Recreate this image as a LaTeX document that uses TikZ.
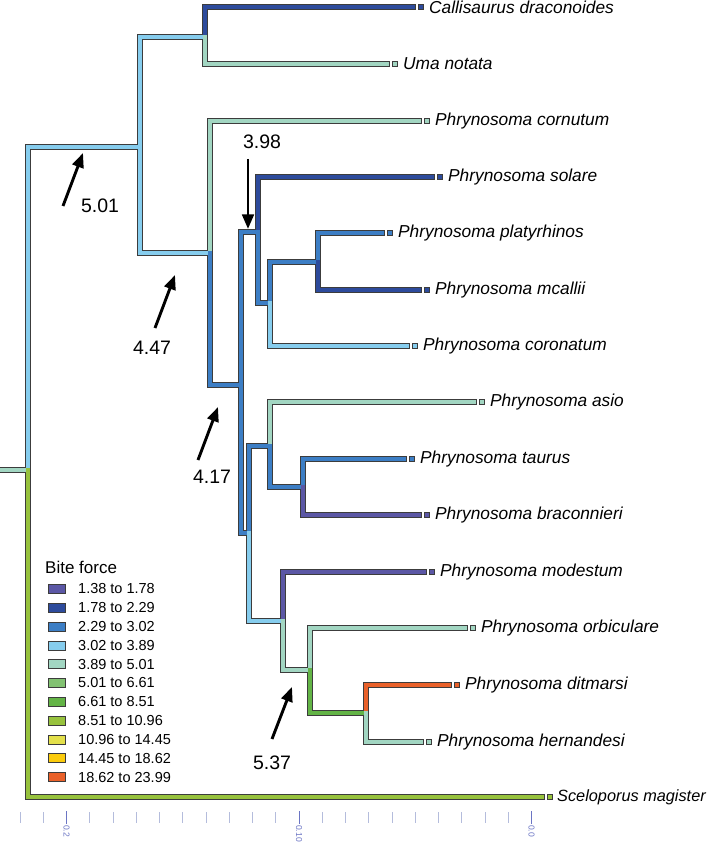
\documentclass[tikz,border=0pt]{standalone}
\usepackage{fontspec}
\setmainfont{Liberation Sans}
\usetikzlibrary{arrows.meta}
\definecolor{c1}{HTML}{5B57A5}
\definecolor{c2}{HTML}{2D4B9C}
\definecolor{c3}{HTML}{3C7EC5}
\definecolor{c4}{HTML}{86CDEE}
\definecolor{c5}{HTML}{A2D6C2}
\definecolor{c6}{HTML}{82C272}
\definecolor{c7}{HTML}{63B446}
\definecolor{c8}{HTML}{97C23D}
\definecolor{c9}{HTML}{E3E04B}
\definecolor{c10}{HTML}{FBCB0C}
\definecolor{c11}{HTML}{E9612A}
\definecolor{edge}{HTML}{3C3C3C}
\definecolor{axisblue}{HTML}{6B75C4}
\definecolor{minorblue}{HTML}{B4BCDC}
\def\branches{c5/-5/470/28/470, c4/28/470/28/147, c8/28/470/28/797, c8/28/797/542/797,
c4/28/147/140/147, c4/140/147/140/37, c4/140/147/140/253,
c4/140/37/205/37, c2/205/37/205/7, c5/205/37/205/64, c2/205/7/413/7, c5/205/64/387/64,
c4/140/253/210/253, c5/210/253/210/121, c3/210/253/210/385, c5/210/121/419/121,
c3/210/385/241/385, c3/241/385/241/232, c3/241/385/241/533,
c3/241/232/258/232, c2/258/232/258/177, c3/258/232/258/303, c2/258/177/432/177,
c3/258/303/270/303, c3/270/303/270/262, c4/270/303/270/346, c4/270/346/407/346,
c3/270/262/318/262, c3/318/262/318/233, c2/318/262/318/290, c3/318/233/382/233, c2/318/290/419/290,
c3/241/533/249/533, c3/249/533/249/446, c4/249/533/249/621,
c3/249/446/270/446, c5/270/446/270/402, c3/270/446/270/487, c5/270/402/474/402,
c3/270/487/303/487, c3/303/487/303/459, c1/303/487/303/515, c3/303/459/404/459, c1/303/515/419/515,
c4/249/621/283/621, c1/283/621/283/572, c5/283/621/283/670, c1/283/572/424/572,
c5/283/670/310/670, c5/310/670/310/628, c7/310/670/310/713, c5/310/628/465/628,
c7/310/713/366/713, c11/366/713/366/685, c5/366/713/366/742, c11/366/685/449/685, c5/366/742/421/742}
\begin{document}
\begin{tikzpicture}[x=1pt,y=-1pt,
  outl/.style={line width=5.8pt, draw=edge, line cap=rect},
  inl/.style={line width=3.6pt, line cap=rect},
  tipbox/.style={draw=edge, line width=0.6pt},
  species/.style={anchor=west, inner sep=0pt, font=\fontsize{17.3}{20}\selectfont\itshape},
  num/.style={inner sep=0pt, font=\fontsize{19.5}{22}\selectfont},
  pointer/.style={line width=2.9pt, -{Triangle[length=14.5pt,width=11.5pt]}},
  legtext/.style={anchor=west, inner sep=0pt, font=\fontsize{14.5}{16}\selectfont},
  legtitle/.style={anchor=west, inner sep=0pt, font=\fontsize{17}{19}\selectfont},
  minortick/.style={draw=minorblue, line width=0.8pt},
  majortick/.style={draw=axisblue, line width=0.9pt},
  axislabel/.style={rotate=-90, anchor=west, inner sep=0pt, text=axisblue, font=\fontsize{8.6}{10}\selectfont}]
\useasboundingbox (0,0) rectangle (709,842);
% branch outlines then fills
\foreach \col/\xa/\ya/\xb/\yb in \branches {\draw[outl] (\xa,\ya) -- (\xb,\yb);}
\foreach \col/\xa/\ya/\xb/\yb in \branches {\draw[inl, draw=\col] (\xa,\ya) -- (\xb,\yb);}
% tips
\foreach \col/\xe/\yy/\name [count=\i] in {c2/416/7/Callisaurus draconoides, c5/390/64/Uma notata,
  c5/422/121/Phrynosoma cornutum, c2/435/177/Phrynosoma solare, c3/385/233/Phrynosoma platyrhinos,
  c2/422/290/Phrynosoma mcallii, c4/410/346/Phrynosoma coronatum, c5/477/402/Phrynosoma asio,
  c3/407/459/Phrynosoma taurus, c1/422/515/Phrynosoma braconnieri, c1/427/572/Phrynosoma modestum,
  c5/468/628/Phrynosoma orbiculare, c11/452/685/Phrynosoma ditmarsi, c5/424/742/Phrynosoma hernandesi} {
  \draw[tipbox, fill=\col] (\xe+2.5,\yy-2.3) rectangle (\xe+7,\yy+2.3);
  \node[species] (sp\i) at (\xe+13,\yy) {\name};
}
\draw[tipbox, fill=c8] (547.5,794.7) rectangle (552,799.3);
\node[species, font=\fontsize{16.3}{19}\selectfont\itshape] (sp15) at (557,797) {Sceloporus magister};
% arrows and values
\coordinate (a1s) at (63,206); \coordinate (a1e) at (83,153);
\draw[pointer] (a1s) -- (a1e);
\node[num] (v1) at (100,206) {5.01};
\coordinate (a2s) at (155,328); \coordinate (a2e) at (175,275);
\draw[pointer] (a2s) -- (a2e);
\node[num] (v2) at (152,348) {4.47};
\coordinate (a3s) at (198,460); \coordinate (a3e) at (218,407);
\draw[pointer] (a3s) -- (a3e);
\node[num] (v3) at (212,477) {4.17};
\coordinate (a4s) at (248,159); \coordinate (a4e) at (248,229);
\draw[pointer] (a4s) -- (a4e);
\node[num] (v4) at (262,142) {3.98};
\coordinate (a5s) at (272,739); \coordinate (a5e) at (292,687);
\draw[pointer] (a5s) -- (a5e);
\node[num] (v5) at (272,763) {5.37};
% legend
\node[legtitle] (legt) at (45,567) {Bite force};
\foreach \col/\txt [count=\i] in {c1/1.38 to 1.78, c2/1.78 to 2.29, c3/2.29 to 3.02, c4/3.02 to 3.89,
  c5/3.89 to 5.01, c6/5.01 to 6.61, c7/6.61 to 8.51, c8/8.51 to 10.96, c9/10.96 to 14.45,
  c10/14.45 to 18.62, c11/18.62 to 23.99} {
  \pgfmathsetmacro\ly{589+18.8*(\i-1)}
  \draw[tipbox, fill=\col] (48,\ly-4.5) rectangle (65,\ly+4.5);
  \node[legtext] (leg\i) at (78,\ly) {\txt};
}
% axis
\foreach \k in {0,...,22} {
  \pgfmathsetmacro\xx{531.5-23.25*\k}
  \draw[minortick] (\xx,812) -- (\xx,823);
}
\foreach \k/\lab in {0/0.0, 10/0.10, 20/0.2} {
  \pgfmathsetmacro\xx{531.5-23.25*\k}
  \draw[majortick] (\xx,811) -- (\xx,824);
  \node[axislabel] (ax\k) at (\xx,825) {\lab};
}
\end{tikzpicture}
\end{document}
